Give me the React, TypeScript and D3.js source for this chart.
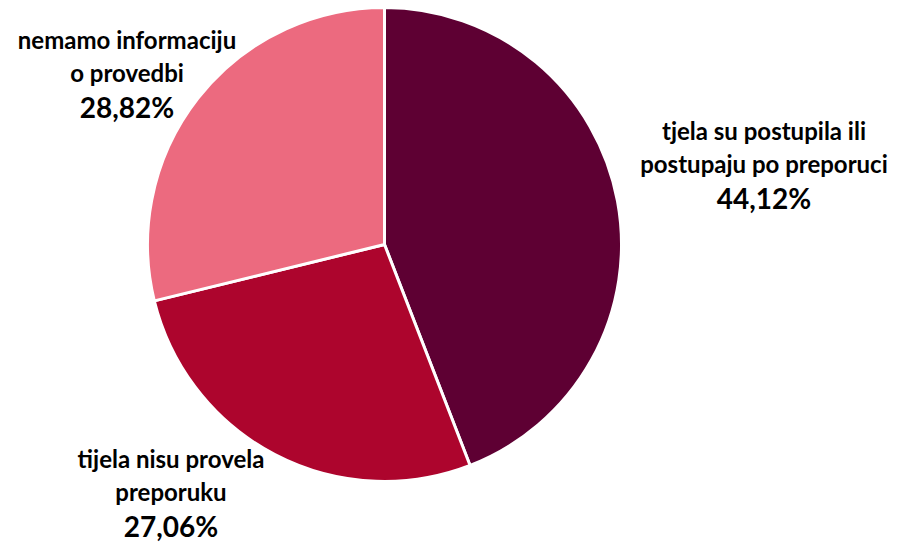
import React from "react";
import * as d3 from "d3";

// podaci
const categories = ["postupila", "nisu", "nemamo"];
const values = [44.12, 27.06, 28.82];
const colors = ["#5E0033", "#AD052D", "#EC6A7F"];
const labelLines = [
  ["tjela su postupila ili", "postupaju po preporuci"],
  ["tijela nisu provela", "preporuku"],
  ["nemamo informaciju", "o provedbi"],
];
const percentLabels = ["44,12%", "27,06%", "28,82%"];

// pozicije oznaka (centar teksta, bazna linija prvog reda)
const labelPos = [
  { x: 764, y: 140 },
  { x: 171, y: 468 },
  { x: 127, y: 49 },
];

export default function App() {
  const width = 899;
  const height = 544;
  const cx = 384.5;
  const cy = 244.5;
  const radius = 237;

  const pie = d3
    .pie<number>()
    .sort(null)
    .value((d) => d);
  const arcs = pie(values);
  const arc = d3.arc<d3.PieArcDatum<number>>().innerRadius(0).outerRadius(radius);

  return (
    <svg
      width={width}
      height={height}
      style={{ position: "absolute", left: 0, top: 0, background: "#fff" }}
      fontFamily="Lato, 'Open Sans', sans-serif"
    >
      <g transform={`translate(${cx},${cy})`}>
        {arcs.map((a, i) => (
          <path
            key={categories[i]}
            d={arc(a) || ""}
            fill={colors[i]}
            stroke="#fff"
            strokeWidth={3}
            strokeLinejoin="round"
          />
        ))}
      </g>
      {labelPos.map((p, i) => (
        <text key={i} textAnchor="middle" fontWeight="bold" fill="#000">
          {labelLines[i].map((line, j) => (
            <tspan key={j} x={p.x} y={p.y + j * 33} fontSize={24}>
              {line}
            </tspan>
          ))}
          <tspan x={p.x} y={p.y + 69} fontSize={28}>
            {percentLabels[i]}
          </tspan>
        </text>
      ))}
    </svg>
  );
}
